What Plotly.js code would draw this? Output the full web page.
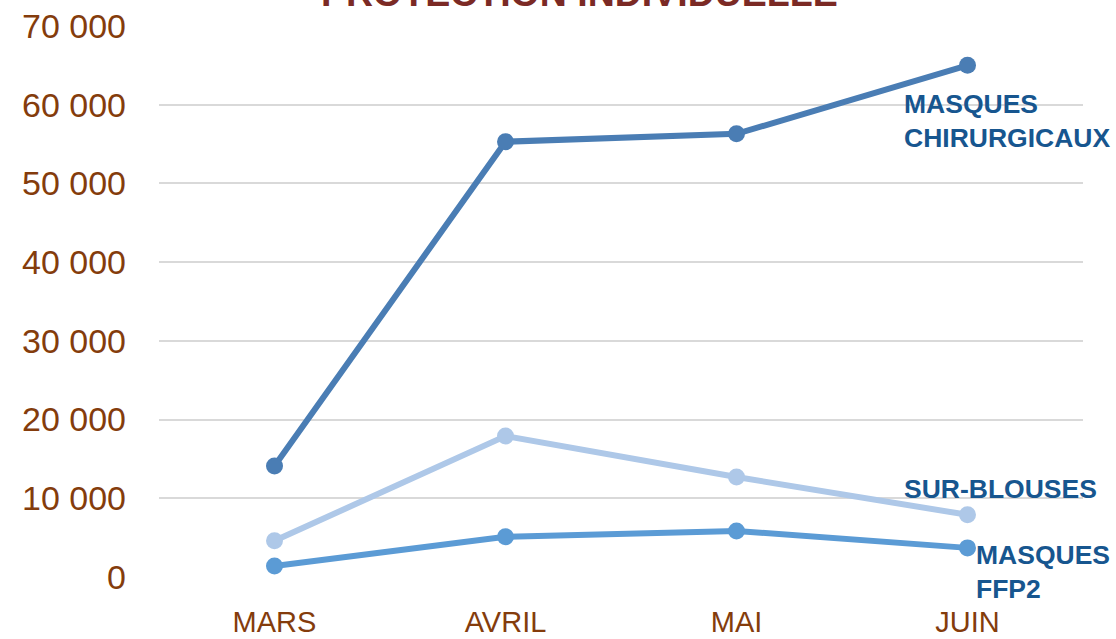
<!DOCTYPE html>
<html>
<head>
<meta charset="utf-8">
<script src="https://cdn.plot.ly/plotly-3.0.1.min.js"></script>
<style>html,body{margin:0;padding:0;background:#fff;}#chart{width:1116px;height:639px;}</style>
</head>
<body>
<div id="chart"></div>
<script>
const months = ["MARS", "AVRIL", "MAI", "JUIN"];
const chirurgicaux = [14100, 55300, 56300, 65000];
const surBlouses = [4600, 17900, 12700, 7900];
const ffp2 = [1400, 5100, 5850, 3700];
const yTickVals = [0, 10000, 20000, 30000, 40000, 50000, 60000, 70000];
const yTickText = ["0", "10 000", "20 000", "30 000", "40 000", "50 000", "60 000", "70 000"];
const titleText = "PROTECTION INDIVIDUELLE";
const labels = ["MASQUES<br>CHIRURGICAUX", "SUR-BLOUSES", "MASQUES<br>FFP2"];

function series(y, color) {
  return {
    x: months, y: y, type: "scatter", mode: "lines+markers",
    line: {color: color, width: 6},
    marker: {color: color, size: 17},
    cliponaxis: false, hoverinfo: "skip"
  };
}
const data = [
  series(ffp2, "#5b9bd5"),
  series(surBlouses, "#aec8e8"),
  series(chirurgicaux, "#4a7db4")
];
const labelFont = {family: "Liberation Sans, Arial, sans-serif", size: 26.5, color: "#17568f", weight: "bold"};
const last = months.length - 1;
const layout = {
  width: 1116, height: 639,
  margin: {l: 159, r: 33, t: 26, b: 62},
  paper_bgcolor: "#fff", plot_bgcolor: "#fff",
  showlegend: false,
  xaxis: {
    type: "category", range: [-0.5, 3.5],
    showgrid: false, zeroline: false, showline: false, ticks: "",
    tickfont: {family: "Liberation Sans, Arial, sans-serif", size: 29, color: "#843c0c"},
    ticklabelstandoff: 25
  },
  yaxis: {
    range: [0, 70000], tickvals: yTickVals, ticktext: yTickText,
    showgrid: true, gridcolor: "#d9d9d9", gridwidth: 2,
    zeroline: false, showline: false, ticks: "",
    tickfont: {family: "Liberation Sans, Arial, sans-serif", size: 34, color: "#843c0c"},
    ticklabelstandoff: 32
  },
  annotations: [
    {text: "<b>" + titleText + "</b>", xref: "paper", yref: "paper", x: 0.455, y: 1.018,
     xanchor: "center", yanchor: "bottom", showarrow: false,
     font: {family: "Liberation Sans, Arial, sans-serif", size: 37.5, color: "#7b2a25"}},
    {text: "<b>" + labels[0] + "</b>", x: months[last], y: chirurgicaux[last], xref: "x", yref: "y",
     xanchor: "left", yanchor: "top", align: "left", showarrow: false, xshift: -66, yshift: -22, font: labelFont},
    {text: "<b>" + labels[1] + "</b>", x: months[last], y: surBlouses[last], xref: "x", yref: "y",
     xanchor: "left", yanchor: "middle", align: "left", showarrow: false, xshift: -66, yshift: 26, font: labelFont},
    {text: "<b>" + labels[2] + "</b>", x: months[last], y: ffp2[last], xref: "x", yref: "y",
     xanchor: "left", yanchor: "middle", align: "left", showarrow: false, xshift: 6, yshift: -24, font: labelFont}
  ]
};
Plotly.newPlot("chart", data, layout, {staticPlot: true, displayModeBar: false});
</script>
</body>
</html>
